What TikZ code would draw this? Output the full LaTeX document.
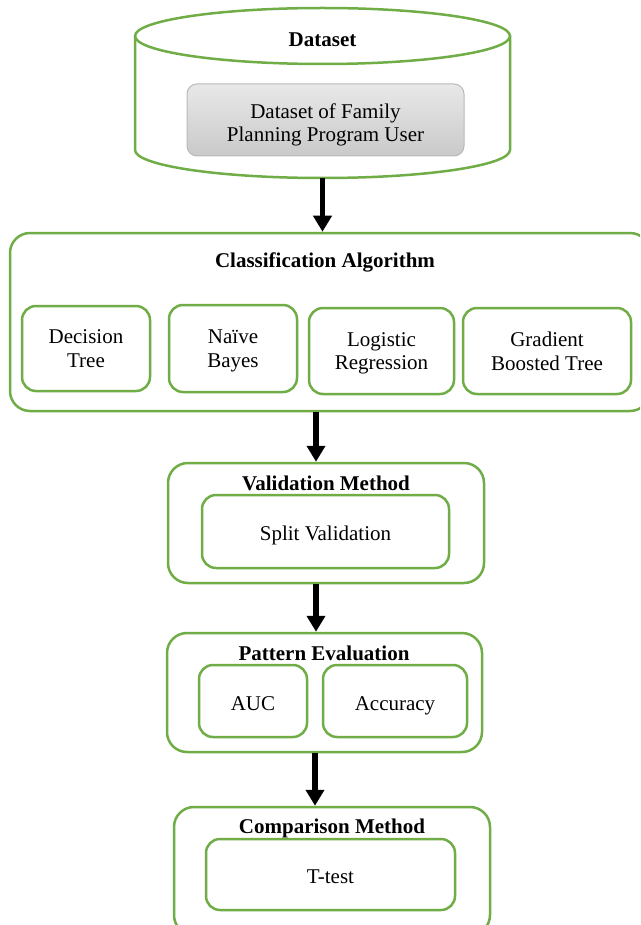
\documentclass[tikz,border=0pt]{standalone}
\usepackage{fontspec}
\setmainfont{Liberation Serif}
\usetikzlibrary{arrows.meta}
\definecolor{grn}{HTML}{70AD47}
\tikzset{
  outerbox/.style={draw=grn, line width=2.5pt, rounded corners=20pt, fill=white, inner sep=0pt},
  innerbox/.style={draw=grn, line width=2.5pt, rounded corners=14pt, fill=white, align=center, inner sep=0pt,
    text depth=0pt, font=\fontsize{21}{23.5}\selectfont},
  oneline/.style={text height=18.5pt},
  title/.style={font=\fontsize{21}{23.5}\selectfont\bfseries, inner sep=0pt},
  arr/.style={line width=5.5pt, -{Triangle[width=18pt,length=16pt]}},
}
\begin{document}
\begin{tikzpicture}[x=1pt,y=-1pt]
\useasboundingbox (0,0) rectangle (640,925);
\clip (0,0) rectangle (640,925);
% cylinder
\node[minimum width=375pt, minimum height=114pt, inner sep=0pt] (cyl) at (322.5,93) {};
\coordinate (cylbot) at (322.5,178);
\draw[grn, line width=2.5pt, fill=white] (135,36) -- (135,150) arc[start angle=180, end angle=0, x radius=187.5, y radius=28] -- (510,36);
\draw[grn, line width=2.5pt] (322.5,36) ellipse [x radius=187.5, y radius=28];
\node[title] (dstitle) at (322.5,40) {Dataset};
\node[draw=gray!55, line width=1pt, rounded corners=10pt, top color=gray!18, bottom color=gray!42,
  minimum width=277pt, minimum height=72pt, inner sep=0pt] (ds) at (325.5,120) {};
\node[align=center, inner sep=0pt, font=\fontsize{21}{23.5}\selectfont] (dstext) at (325.5,125) {Dataset of Family\\Planning Program User};
% classification
\node[outerbox, minimum width=640pt, minimum height=178pt] (cls) at (330,322) {};
\node[title] (clstitle) at (325,262) {Classification Algorithm};
\node[innerbox, minimum width=128pt, minimum height=85pt] (dt) at (86,348.5) {Decision\\Tree};
\node[innerbox, minimum width=128pt, minimum height=87pt] (nb) at (233,348.5) {Naïve\\Bayes};
\node[innerbox, minimum width=145pt, minimum height=86pt] (lr) at (381.5,351) {Logistic\\Regression};
\node[innerbox, minimum width=168pt, minimum height=86pt] (gbt) at (547,351) {Gradient\\Boosted Tree};
% validation
\node[outerbox, minimum width=316pt, minimum height=120pt] (val) at (326,523) {};
\node[title] (valtitle) at (326,483) {Validation Method};
\node[innerbox, oneline, minimum width=247pt, minimum height=73pt] (sv) at (325.5,531.5) {Split Validation};
% pattern
\node[outerbox, minimum width=315pt, minimum height=119pt] (pat) at (324.5,692.5) {};
\node[title] (pattitle) at (324,653) {Pattern Evaluation};
\node[innerbox, oneline, minimum width=108pt, minimum height=72pt] (auc) at (253,701) {AUC};
\node[innerbox, oneline, minimum width=144pt, minimum height=72pt] (acc) at (395,701) {Accuracy};
% comparison
\node[outerbox, minimum width=316pt, minimum height=128pt] (cmp) at (332,871) {};
\node[title] (cmptitle) at (332,828) {Comparison Method};
\node[innerbox, oneline, minimum width=249pt, minimum height=71pt] (tt) at (330.5,874.5) {T-test};
% arrows
\coordinate (x2) at (316,0);
\coordinate (x4) at (315,0);
\draw[arr] (cylbot) -- (cylbot |- cls.north);
\draw[arr] (cls.south -| x2) -- (val.north -| x2);
\draw[arr] (val.south -| x2) -- (pat.north -| x2);
\draw[arr] (pat.south -| x4) -- (cmp.north -| x4);
\end{tikzpicture}
\end{document}
